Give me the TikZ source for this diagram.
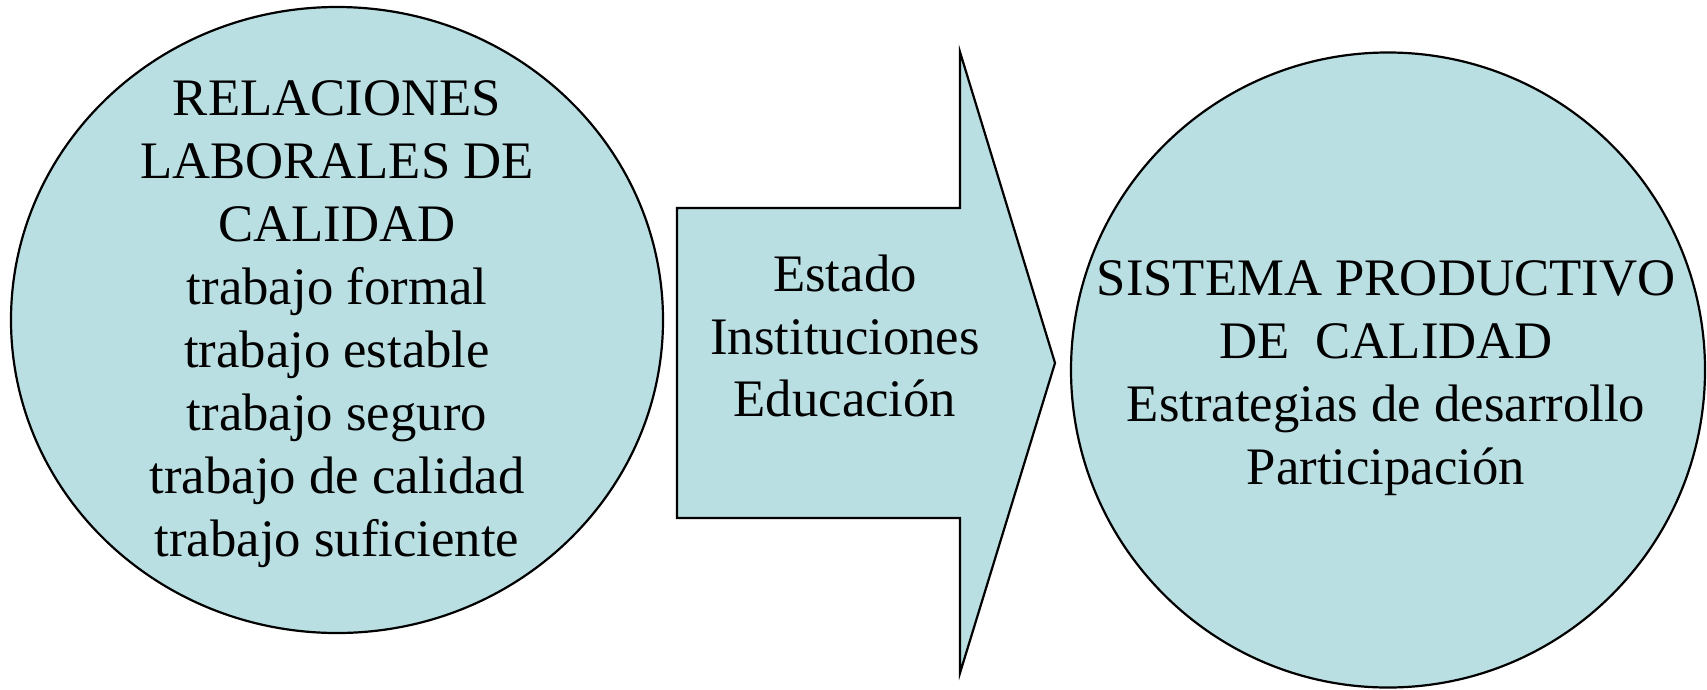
\documentclass[tikz,border=0pt]{standalone}
\usepackage{fontspec}
\setmainfont{Liberation Serif}
\usetikzlibrary{shapes.geometric}
\definecolor{celeste}{RGB}{186,223,227}
\tikzset{
  globo/.style={ellipse, draw, line width=0.022cm, fill=celeste, inner sep=0pt},
  rotulo/.style={align=center, font=\fontsize{15}{17.9}\selectfont}
}
\begin{document}
\begin{tikzpicture}
  \useasboundingbox (0.000000,0.000000) rectangle (17.070000,6.890000);

  % Drawing left ellipse
  \node [globo, minimum width=6.520000cm, minimum height=6.260000cm] (rel) at (3.370000,3.690000) {};%

  % Drawing big arrow
  \draw [line width=0.022cm, fill=celeste, line join=miter] (6.770000,4.810000) -- (9.600000,4.810000) -- (9.600000,6.370000) -- (10.550000,3.260000) -- (9.600000,0.160000) -- (9.600000,1.710000) -- (6.770000,1.710000) -- cycle;%

  % Drawing right ellipse
  \node [globo, minimum width=6.340000cm, minimum height=6.350000cm] (sis) at (13.880000,3.190000) {};%

  % Texts
  \node [rotulo] (reltxt) at (3.370000,3.650000) {RELACIONES\\ LABORALES DE\\ CALIDAD\\ trabajo formal\\ trabajo estable\\ trabajo seguro\\ trabajo de calidad\\ trabajo suficiente};%
  \node [rotulo] (flujo) at (8.450000,3.530000) {Estado\\ Instituciones\\ Educación};%
  \node [rotulo] (sistxt) at (13.860000,3.110000) {SISTEMA PRODUCTIVO\\ DE~~CALIDAD\\ Estrategias de desarrollo\\ Participación};%
\end{tikzpicture}
\end{document}
